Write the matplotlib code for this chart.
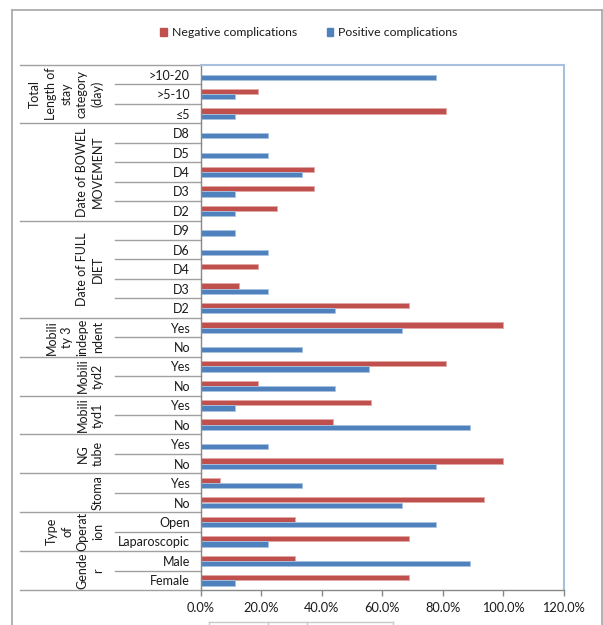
import matplotlib
matplotlib.use("Agg")
import matplotlib.pyplot as plt
from matplotlib.transforms import blended_transform_factory
from matplotlib.patches import Patch

plt.rcParams['font.family'] = ['Lato', 'DejaVu Sans']

# categories top to bottom
categories = ['>10-20', '>5-10', '≤5',
              'D8', 'D5', 'D4', 'D3', 'D2',
              'D9', 'D6', 'D4', 'D3', 'D2',
              'Yes', 'No',
              'Yes', 'No',
              'Yes', 'No',
              'Yes', 'No',
              'Yes', 'No',
              'Open', 'Laparoscopic',
              'Male', 'Female']

negative = [0, 18.75, 81.25,
            0, 0, 37.5, 37.5, 25.0,
            0, 0, 18.75, 12.5, 68.75,
            100.0, 0,
            81.25, 18.75,
            56.25, 43.75,
            0, 100.0,
            6.25, 93.75,
            31.25, 68.75,
            31.25, 68.75]

positive = [77.8, 11.1, 11.1,
            22.2, 22.2, 33.3, 11.1, 11.1,
            11.1, 22.2, 0, 22.2, 44.4,
            66.7, 33.3,
            55.6, 44.4,
            11.1, 88.9,
            22.2, 77.8,
            33.3, 66.7,
            77.8, 22.2,
            88.9, 11.1]

group_names = ['Total\nLength of\nstay\ncategory\n(day)',
               'Date of BOWEL\nMOVEMENT',
               'Date of FULL\nDIET',
               'Mobili\nty 3\nindepe\nndent',
               'Mobili\ntyd2',
               'Mobili\ntyd1',
               'NG\ntube',
               'Stoma',
               'Type\nof\nOperat\nion',
               'Gende\nr']
group_sizes = [3, 5, 5, 2, 2, 2, 2, 2, 2, 2]

xticks = [0, 20, 40, 60, 80, 100, 120]

RED = '#C0504D'
BLUE = '#4F81BD'
GRID = '#A0A0A0'
TXT = '#1a1a1a'

W, H = 603, 625
fig = plt.figure(figsize=(W / 100, H / 100), dpi=100)

# plot area in pixels
L, R, T, B = 201, 563.5, 65, 590
ax = fig.add_axes([L / W, 1 - B / H, (R - L) / W, (B - T) / H])

n = len(categories)
y = list(range(n))
bh = 0.27
ax.barh([i - bh / 2 for i in y], negative, height=bh, color=RED,
        edgecolor='#E3A9A7', linewidth=0.6, label='Negative complications')
ax.barh([i + bh / 2 for i in y], positive, height=bh, color=BLUE,
        edgecolor='#A9C2E2', linewidth=0.6, label='Positive complications')

ax.set_ylim(n - 0.5, -0.5)
ax.set_xlim(0, 120)
ax.set_xticks(xticks)
ax.set_xticklabels([f'{v:.1f}%' for v in xticks], fontsize=9.2, color=TXT)
ax.tick_params(axis='x', length=4, width=1, color='#888888', pad=5)
ax.set_yticks(y)
ax.set_yticklabels(categories, fontsize=9, color=TXT)
ax.tick_params(axis='y', length=0, pad=8)

for s in ['top', 'right']:
    ax.spines[s].set_color('#A7C0DE')
    ax.spines[s].set_linewidth(1.5)
for s in ['left', 'bottom']:
    ax.spines[s].set_color('#888888')
    ax.spines[s].set_linewidth(1)


def px2ax(px):
    return (px - L) / (R - L)


tr = blended_transform_factory(ax.transAxes, ax.transData)

# separators and group labels
start = 0
group_bounds = [-0.5]
for name, size in zip(group_names, group_sizes):
    end = start + size
    group_bounds.append(end - 0.5)
    for b in range(start + 1, end):
        ax.plot([px2ax(115), 0], [b - 0.5, b - 0.5], color=GRID, lw=1,
                transform=tr, clip_on=False)
    center = (start + end - 1) / 2
    ax.text(px2ax(104), center, name, transform=tr, rotation=90,
            ha='right', va='center', multialignment='center',
            fontsize=9, linespacing=1.35, color=TXT)
    start = end
for b in group_bounds:
    ax.plot([px2ax(20), 0], [b, b], color=GRID, lw=1, transform=tr, clip_on=False)

# legend
handles = [Patch(color=RED, label='Negative complications'),
           Patch(color=BLUE, label='Positive complications')]
fig.legend(handles=handles, loc='center', bbox_to_anchor=(309 / W, 1 - 33 / H),
           ncol=2, frameon=False, fontsize=8.8, handlelength=0.55,
           handleheight=0.55, handletextpad=0.4, columnspacing=2.4,
           labelcolor=TXT)

# outer chart border
border = dict(color='#A6A6A6', lw=1.2, transform=fig.transFigure)
fig.add_artist(plt.Line2D([12 / W, 12 / W], [0, 1 - 10 / H], **border))
fig.add_artist(plt.Line2D([12 / W, 601.5 / W], [1 - 10 / H, 1 - 10 / H], **border))
fig.add_artist(plt.Line2D([601.5 / W, 601.5 / W], [0, 1 - 10 / H], **border))

# leftover tab strip at the bottom edge
tab = dict(color='#C8C8C8', lw=1, transform=fig.transFigure)
fig.add_artist(plt.Line2D([209 / W, 393 / W], [1 - 622 / H, 1 - 622 / H], **tab))
for xp in [209, 268, 307, 393]:
    fig.add_artist(plt.Line2D([xp / W, xp / W], [0, 1 - 622 / H], **tab))

fig.savefig('out.png', dpi=100)
